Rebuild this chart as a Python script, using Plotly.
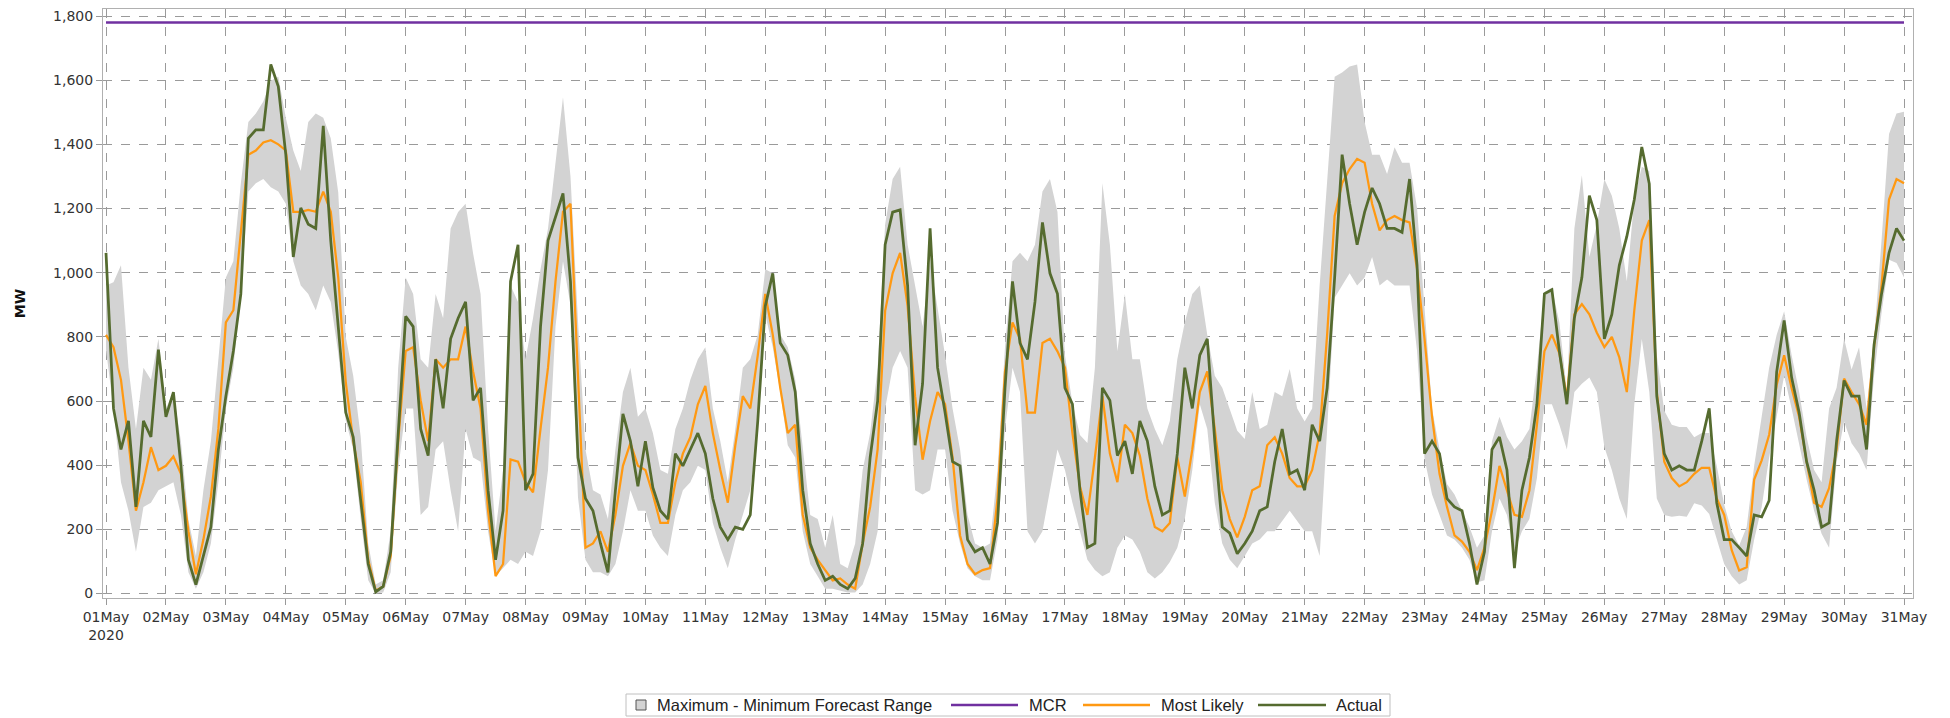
import pandas as pd
import plotly.graph_objects as go

# ---------------- data (3-hourly readings, 01 May 00:00 .. 31 May 00:00) ----------------
start_time = "2020-05-01 00:00"
step = "3h"

actual = [
    1062, 577, 449, 538, 270, 538, 488, 760,
    551, 628, 398, 105, 28, 117, 207, 449,
    615, 756, 934, 1419, 1445, 1445, 1649, 1580,
    1368, 1049, 1202, 1151, 1138, 1458, 1100, 832,
    564, 488, 296, 92, 5, 22, 130, 513,
    864, 832, 513, 430, 730, 577, 794, 858,
    909, 602, 641, 322, 105, 258, 973, 1087,
    322, 373, 832, 1100, 1170, 1247, 973, 424,
    296, 258, 156, 66, 322, 560, 475, 334,
    475, 330, 258, 232, 436, 398, 449, 500,
    436, 296, 207, 168, 207, 200, 245, 538,
    896, 998, 781, 743, 628, 322, 156, 92,
    41, 54, 28, 15, 47, 156, 424, 600,
    1087, 1189, 1196, 960, 462, 654, 1138, 704,
    564, 411, 398, 168, 130, 143, 92, 220,
    641, 973, 781, 730, 909, 1157, 998, 934,
    641, 590, 322, 143, 156, 641, 602, 430,
    475, 373, 538, 475, 334, 245, 258, 436,
    704, 577, 743, 794, 475, 207, 188, 124,
    156, 194, 258, 270, 411, 513, 373, 385,
    322, 526, 475, 641, 985, 1368, 1215, 1087,
    1189, 1264, 1215, 1138, 1138, 1126, 1292, 1023,
    436, 475, 436, 296, 270, 258, 156, 28,
    130, 449, 488, 385, 79, 322, 424, 590,
    934, 947, 755, 590, 858, 985, 1240, 1164,
    794, 870, 1023, 1113, 1228, 1392, 1277, 615,
    436, 385, 398, 385, 385, 475, 577, 283,
    168, 168, 143, 117, 245, 239, 290, 690,
    851, 673, 564, 411, 322, 207, 220, 475,
    664, 615, 615, 449, 775, 934, 1062, 1138,
    1100,
]

most_likely = [
    806, 768, 666, 475, 258, 347, 456, 385,
    398, 427, 373, 194, 60, 168, 302, 513,
    845, 883, 1126, 1368, 1381, 1406, 1413, 1400,
    1381, 1190, 1190, 1196, 1190, 1253, 1190, 985,
    660, 475, 347, 105, 9, 22, 117, 475,
    756, 768, 602, 475, 730, 704, 730, 730,
    832, 692, 577, 258, 54, 92, 418, 411,
    347, 315, 513, 704, 973, 1190, 1215, 700,
    143, 156, 194, 130, 245, 398, 469, 398,
    385, 309, 220, 220, 347, 436, 487, 590,
    647, 500, 385, 283, 462, 615, 577, 743,
    934, 807, 641, 500, 526, 245, 143, 105,
    73, 41, 47, 28, 15, 156, 270, 449,
    881, 998, 1062, 896, 615, 417, 538, 628,
    590, 424, 181, 92, 60, 73, 79, 296,
    692, 845, 794, 564, 564, 781, 794, 755,
    704, 500, 334, 245, 424, 615, 436, 347,
    526, 500, 430, 296, 207, 194, 220, 424,
    302, 449, 628, 692, 513, 322, 232, 175,
    239, 322, 334, 462, 487, 436, 360, 334,
    334, 385, 500, 807, 1177, 1279, 1323, 1355,
    1343, 1215, 1132, 1164, 1177, 1164, 1157, 1011,
    794, 551, 373, 270, 181, 162, 130, 73,
    143, 258, 398, 322, 245, 239, 322, 526,
    755, 807, 749, 609, 870, 902, 870, 813,
    768, 800, 736, 628, 883, 1100, 1164, 628,
    411, 360, 334, 347, 373, 392, 392, 296,
    245, 135, 72, 82, 355, 415, 495, 650,
    743, 640, 551, 411, 283, 270, 328, 449,
    670, 628, 590, 526, 768, 960, 1228, 1292,
    1279,
]

forecast_max = [
    960, 970, 1023, 704, 513, 704, 666, 794,
    577, 628, 475, 230, 117, 322, 475, 730,
    985, 1036, 1279, 1470, 1496, 1534, 1598, 1611,
    1483, 1381, 1317, 1470, 1496, 1483, 1419, 1250,
    800, 679, 488, 156, 28, 41, 194, 704,
    985, 934, 730, 704, 934, 858, 1138, 1189,
    1215, 1060, 934, 513, 194, 385, 960, 909,
    730, 858, 1011, 1138, 1343, 1547, 1300, 850,
    449, 322, 309, 232, 449, 628, 704, 551,
    577, 500, 385, 373, 513, 577, 666, 730,
    768, 577, 475, 347, 513, 704, 730, 807,
    1011, 998, 807, 768, 666, 449, 245, 232,
    143, 245, 92, 79, 156, 385, 500, 704,
    1151, 1292, 1330, 1087, 960, 832, 1036, 894,
    743, 577, 449, 245, 156, 143, 156, 385,
    768, 1036, 1062, 1036, 1087, 1253, 1292, 1189,
    743, 594, 494, 469, 704, 1279, 1087, 755,
    934, 730, 730, 577, 513, 462, 538, 730,
    845, 934, 960, 806, 679, 641, 577, 507,
    482, 628, 513, 526, 628, 615, 700, 577,
    536, 577, 960, 1279, 1611, 1624, 1643, 1649,
    1470, 1368, 1368, 1308, 1391, 1343, 1343, 1202,
    880, 577, 449, 341, 309, 258, 207, 143,
    181, 475, 551, 488, 449, 475, 513, 704,
    940, 953, 845, 628, 1138, 1304, 1049, 1151,
    1291, 1240, 1138, 973, 1230, 1330, 1317, 743,
    570, 526, 519, 519, 487, 500, 500, 398,
    277, 194, 150, 207, 398, 551, 704, 806,
    880, 743, 628, 487, 385, 347, 577, 641,
    794, 698, 768, 577, 794, 1100, 1432, 1496,
    1502,
]

forecast_min = [
    760, 577, 347, 258, 130, 270, 283, 322,
    334, 347, 245, 66, 15, 66, 156, 347,
    577, 704, 934, 1253, 1279, 1292, 1266, 1253,
    1215, 1036, 960, 934, 883, 960, 909, 750,
    540, 449, 232, 41, 0, 3, 66, 385,
    577, 577, 245, 270, 449, 475, 322, 194,
    513, 424, 411, 194, 54, 79, 105, 92,
    130, 117, 194, 385, 832, 1036, 900, 300,
    105, 66, 66, 54, 92, 194, 322, 258,
    258, 181, 143, 117, 245, 322, 347, 398,
    385, 220, 143, 79, 168, 245, 322, 513,
    870, 768, 628, 462, 424, 194, 92, 54,
    15, 15, 9, 3, 3, 28, 92, 194,
    577, 704, 756, 704, 322, 309, 322, 449,
    449, 258, 156, 79, 54, 41, 41, 168,
    513, 704, 628, 194, 156, 194, 322, 449,
    385, 283, 194, 105, 73, 54, 66, 143,
    181, 168, 130, 66, 47, 66, 98, 143,
    232, 385, 590, 513, 283, 156, 105, 79,
    117, 156, 168, 194, 194, 226, 258, 226,
    194, 194, 117, 513, 922, 960, 998, 960,
    985, 1049, 960, 979, 960, 960, 960, 756,
    420, 309, 245, 181, 168, 143, 105, 34,
    41, 194, 296, 245, 130, 194, 232, 360,
    590, 590, 526, 449, 628, 654, 673, 628,
    457, 385, 296, 232, 590, 793, 628, 296,
    245, 239, 242, 239, 281, 274, 248, 168,
    92, 54, 28, 41, 168, 270, 424, 551,
    679, 577, 462, 355, 258, 186, 143, 411,
    536, 468, 436, 385, 679, 874, 1040, 1030,
    985,
]

mcr_value = 1780

tick_days = pd.date_range("2020-05-01", "2020-05-31", freq="D")
tick_labels = [f"{d:02d}May" for d in range(1, 32)]
tick_labels[0] = "01May<br>2020"

series_names = ["Maximum - Minimum Forecast Range", "MCR", "Most Likely", "Actual"]

# ---------------- styling ----------------
times = pd.date_range(start_time, periods=len(actual), freq=step)

C_BAND = "#d3d3d3"
C_MCR = "#7030a0"
C_ML = "#ff9912"
C_ACT = "#556b2f"
C_GRID = "#9a9a9a"
C_TEXT = "#333333"

# page pixel geometry (body margin removed via post_script)
W, H = 1950, 718
PLOT_L, PLOT_R, PLOT_T, PLOT_B = 103, 1913, 9, 598


def px_x(p):
    return (p - PLOT_L) / (PLOT_R - PLOT_L)


def px_y(p):
    return (PLOT_B - p) / (PLOT_B - PLOT_T)


fig = go.Figure()

fig.add_trace(go.Scatter(
    x=times, y=forecast_min, mode="lines", line=dict(width=0, color=C_BAND),
    showlegend=False, hoverinfo="skip", name=series_names[0]))
fig.add_trace(go.Scatter(
    x=times, y=forecast_max, mode="lines", line=dict(width=0, color=C_BAND),
    fill="tonexty", fillcolor=C_BAND, showlegend=False, hoverinfo="skip",
    name=series_names[0]))

fig.add_trace(go.Scatter(
    x=[times[0], times[-1]], y=[mcr_value, mcr_value], mode="lines",
    name=series_names[1], line=dict(color=C_MCR, width=2.5), showlegend=False))

fig.add_trace(go.Scatter(
    x=times, y=most_likely, mode="lines", name=series_names[2],
    line=dict(color=C_ML, width=2.25), showlegend=False))

fig.add_trace(go.Scatter(
    x=times, y=actual, mode="lines", name=series_names[3],
    line=dict(color=C_ACT, width=2.75), showlegend=False))

# ---------------- custom legend (drawn below the plot) ----------------
LEG_FONT = dict(family="Liberation Sans, Arial, sans-serif", size=16.5, color="#222222")
leg_cy = px_y(705)
shapes = [
    dict(type="rect", xref="paper", yref="paper",
         x0=px_x(626), x1=px_x(1390), y0=px_y(716), y1=px_y(694),
         line=dict(color="#c0c0c0", width=1), fillcolor="white", layer="above"),
    dict(type="rect", xref="paper", yref="paper",
         x0=px_x(636), x1=px_x(646), y0=px_y(710), y1=px_y(700),
         line=dict(color="#555555", width=1), fillcolor=C_BAND, layer="above"),
]
legend_lines = [(951, 1018, C_MCR, 2.5), (1083, 1150, C_ML, 2.5), (1258, 1326, C_ACT, 2.5)]
for x0, x1, col, wd in legend_lines:
    shapes.append(dict(type="line", xref="paper", yref="paper",
                       x0=px_x(x0), x1=px_x(x1), y0=leg_cy, y1=leg_cy,
                       line=dict(color=col, width=wd), layer="above"))

text_x = [656, 1028, 1160, 1335]
annotations = [
    dict(text=name, xref="paper", yref="paper", x=px_x(tx), y=leg_cy,
         xanchor="left", yanchor="middle", showarrow=False, font=LEG_FONT, borderpad=0)
    for name, tx in zip(series_names, text_x)
]

fig.update_layout(
    width=W, height=H,
    margin=dict(l=PLOT_L, r=W - PLOT_R, t=PLOT_T, b=H - PLOT_B),
    paper_bgcolor="white", plot_bgcolor="white",
    font=dict(family="DejaVu Sans, Verdana, sans-serif", size=14, color=C_TEXT),
    showlegend=False,
    shapes=shapes,
    annotations=annotations,
)

fig.update_xaxes(
    type="date",
    range=["2020-04-30 22:48", "2020-05-31 03:36"],
    tickmode="array", tickvals=tick_days, ticktext=tick_labels,
    ticks="outside", ticklen=6, tickcolor="#999999",
    showgrid=True, gridcolor=C_GRID, griddash="dash", gridwidth=1,
    showline=True, linecolor="#b0b0b0", linewidth=1, mirror=True,
    zeroline=False, automargin=False, ticklabeloverflow="allow",
    tickfont=dict(size=14, color=C_TEXT),
)

fig.update_yaxes(
    range=[-14, 1822],
    tickmode="linear", tick0=0, dtick=200, tickformat=",d",
    ticks="outside", ticklen=6, tickcolor="#999999",
    showgrid=True, gridcolor=C_GRID, griddash="dash", gridwidth=1,
    showline=True, linecolor="#b0b0b0", linewidth=1, mirror=True,
    zeroline=False, automargin=False, ticklabeloverflow="allow",
    title=dict(text="<b>MW</b>", standoff=24, font=dict(size=14, color="#111111")),
    tickfont=dict(size=14, color=C_TEXT),
)

fig.write_html(
    "out.html",
    config={"displayModeBar": False},
    post_script="document.body.style.margin='0px'; document.body.style.overflow='hidden';",
)
